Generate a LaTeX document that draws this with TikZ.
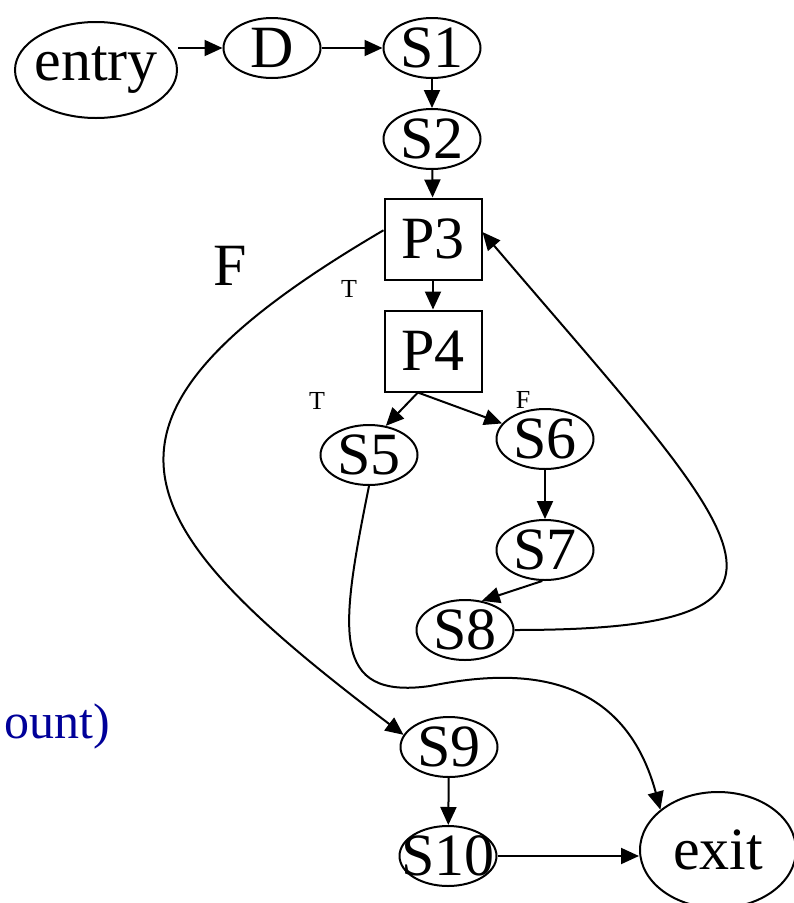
\documentclass[tikz,border=0pt]{standalone}
\usepackage{fontspec}
\setmainfont{Liberation Serif}
\usetikzlibrary{arrows.meta,shapes.geometric}
\definecolor{Navy}{HTML}{000099}
\tikzset{
  stmt/.style={draw,ellipse,line width=2pt,fill=white,inner sep=0pt,minimum width=97pt,minimum height=60pt,font=\fontsize{60}{60}\selectfont},
  pred/.style={draw,rectangle,line width=2pt,fill=white,inner sep=0pt,minimum width=97pt,minimum height=81pt,font=\fontsize{60}{60}\selectfont},
  term/.style={stmt,minimum width=162pt,minimum height=96pt},
  branch/.style={font=\fontsize{26}{26}\selectfont},
  arrow/.style={-{Triangle[length=18pt,width=16pt]},line width=2pt}
}
\begin{document}
\begin{tikzpicture}[x=1pt,y=-1pt]
\useasboundingbox (0,0) rectangle (794,903);
\node[font=\fontsize{60}{60}\selectfont] (fP3) at (230,266) {F};
\node[branch] (tP3) at (349,289) {T};
\node[branch] (tP4) at (317,401) {T};
\node[branch] (fP4) at (523,400) {F};
\node[font=\fontsize{50}{50}\selectfont,text=Navy,anchor=base east,inner sep=0pt] (cnt) at (110,738) {ount)};
\node[term] (entry) at (96,70) {\makebox[0pt]{entry}};
\node[stmt] (D) at (272,48) {D};
\node[stmt] (S1) at (432,48) {S1};
\node[stmt] (S2) at (432,139) {S2};
\node[pred] (P3) at (433,239) {P3};
\node[pred] (P4) at (433,351) {P4};
\node[stmt] (S5) at (369,455) {S5};
\node[stmt] (S6) at (545,439) {S6};
\node[stmt] (S7) at (545,550) {S7};
\node[stmt] (S8) at (465,630) {S8};
\node[stmt] (S9) at (449,747) {S9};
\node[stmt] (S10) at (448,856) {\makebox[0pt]{S10}};
\node[term,minimum width=156pt,minimum height=116pt] (exit) at (718,850) {exit};
\draw[arrow] (entry.east |- D.west) -- (D);
\draw[arrow] (D) -- (S1);
\draw[arrow] (S1) -- (S2);
\draw[arrow] (S2) -- (P3);
\draw[arrow] (P3) -- (P4);
\draw[arrow] (P4.250) -- (S5.60);
\draw[arrow] (P4.250) -- (S6.160);
\draw[arrow] (S6) -- (S7);
\draw[arrow] (S7.265) -- (S8.60);
\draw[arrow] (S9) -- (S10);
\draw[arrow] (S10.east) -- (exit.west |- S10.east);
\draw[arrow] (P3.170) .. controls (60,420) and (120,520) .. (S9.165);
\draw[arrow] (S8.east) .. controls (850,630) and (745,540) .. (P3.8);
\draw[arrow] (S5.south) .. controls (340,630) and (330,700) .. (430,686) .. controls (500,672) and (620,660) .. (exit.145);
\end{tikzpicture}
\end{document}
